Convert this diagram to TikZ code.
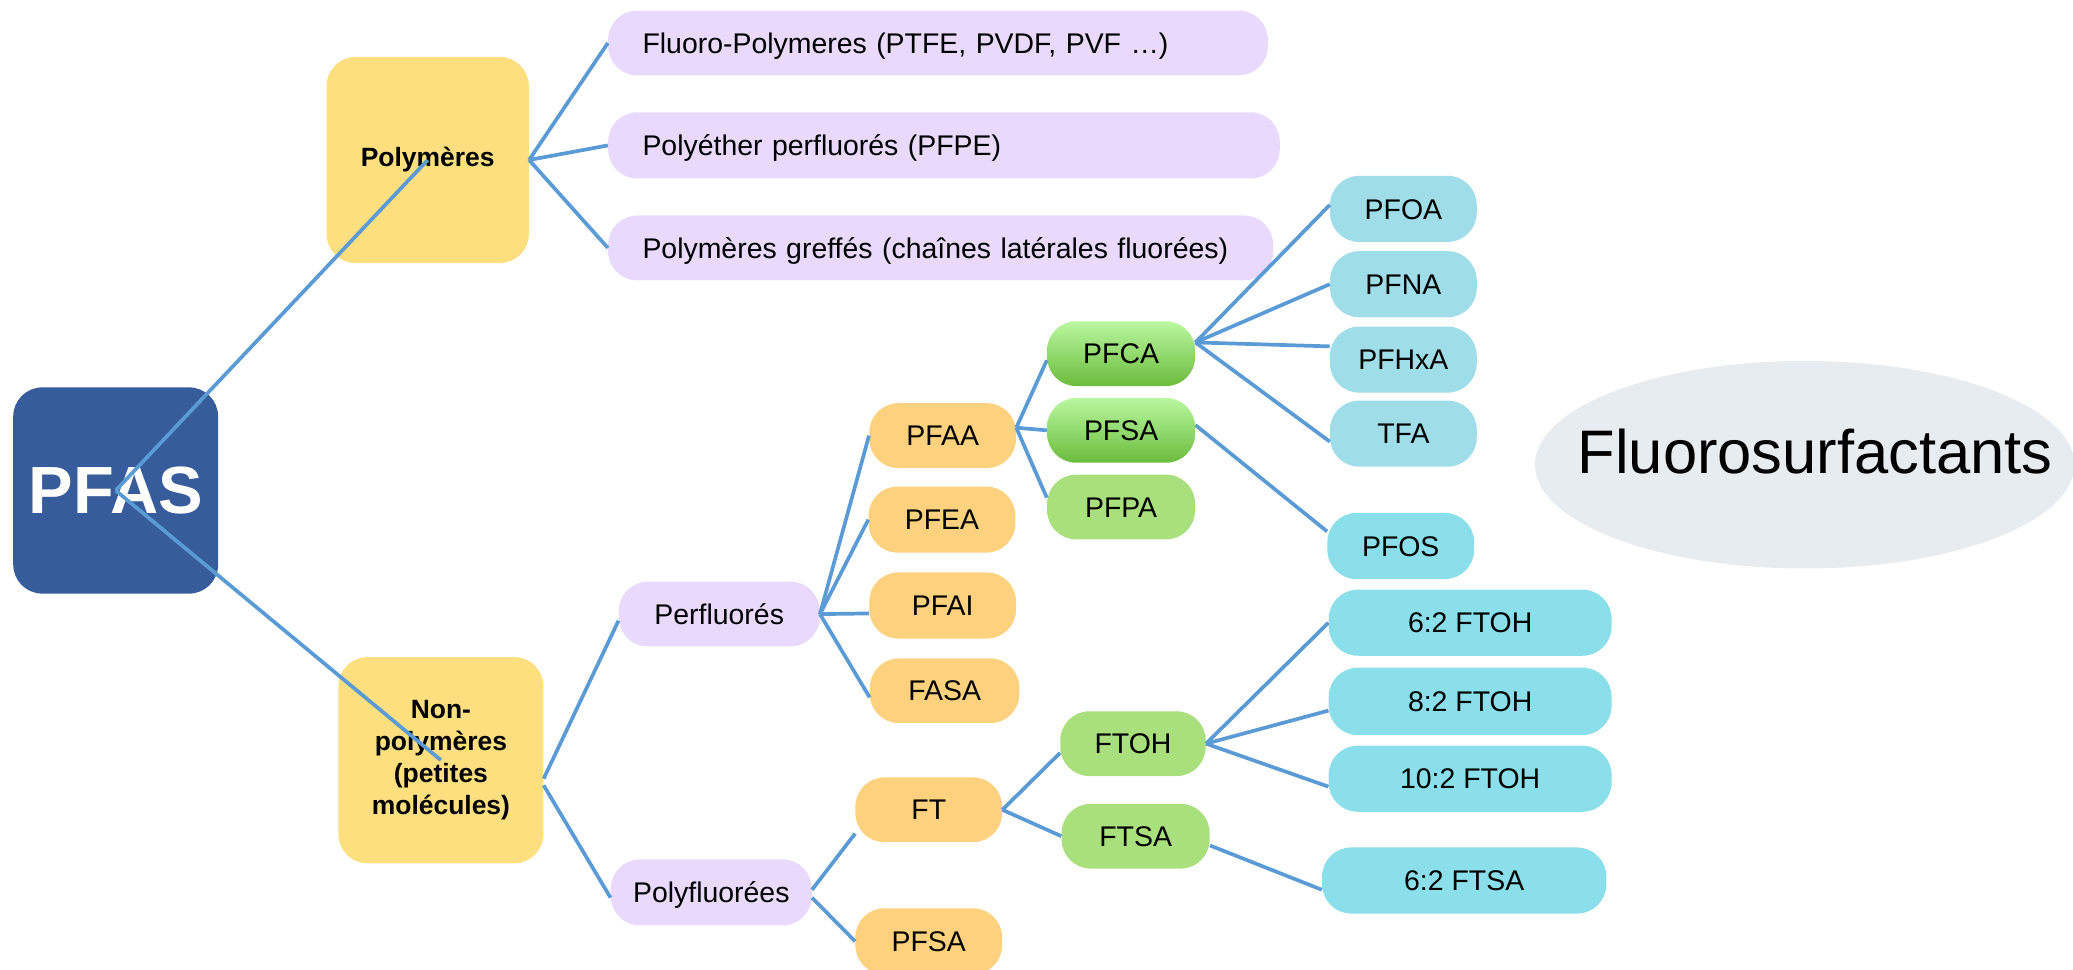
\documentclass[tikz,border=0pt]{standalone}
\usepackage{fontspec}
\setmainfont{Liberation Sans}
\usetikzlibrary{shapes.geometric}
\definecolor{pfasblue}{HTML}{365C9C}
\definecolor{yellowbox}{HTML}{FDDF80}
\definecolor{orangebox}{HTML}{FDD17D}
\definecolor{lavbox}{HTML}{E8D9FD}
\definecolor{greenbox}{HTML}{A9DF7D}
\definecolor{greentop}{HTML}{B9F8A0}
\definecolor{greenbot}{HTML}{6CBB3D}
\definecolor{cyanA}{HTML}{9FDEE8}
\definecolor{cyanB}{HTML}{8BDFEA}
\definecolor{ellgray}{HTML}{E7ECF1}
\definecolor{linkblue}{HTML}{5B9BD5}
\begin{document}
\begin{tikzpicture}[x=1pt,y=-1pt,
  box/.style={rounded corners=22pt, inner sep=0pt, minimum height=49pt},
  lbl/.style={font=\fontsize{21.5}{25}\selectfont, text height=15.4pt, text depth=0pt, align=center},
  big/.style={box, minimum height=156pt, align=center, font=\bfseries\fontsize{20}{24}\selectfont},
  lav/.style={box, lbl, fill=lavbox, align=left, inner xsep=26pt},
  org/.style={box, lbl, fill=orangebox, minimum width=111pt},
  grn/.style={box, lbl, fill=greenbox, minimum width=111pt},
  grad/.style={box, lbl, top color=greentop, bottom color=greenbot, minimum width=112pt},
  cyA/.style={box, lbl, fill=cyanA, minimum width=111pt, minimum height=50pt},
  cyB/.style={box, lbl, fill=cyanB, minimum width=111pt, minimum height=50pt},
  link/.style={draw=linkblue, line width=2.8pt}
]
\useasboundingbox (0,0) rectangle (1568,733);

% main nodes
\node[box, fill=pfasblue, minimum width=155pt, minimum height=156pt, text=white,
      font=\bfseries\fontsize{50.5}{60}\selectfont] (pfas) at (87.5,371) {PFAS};
\node[big, fill=yellowbox, minimum width=153pt] (poly) at (323.5,121) {Polymères};
\node[big, fill=yellowbox, minimum width=155pt] (nonpoly) at (333.5,575) {Non-\\polymères\\(petites\\molécules)};

% polymer families
\node[lav, minimum width=499pt, text width=447pt] (fluoro) at (709.5,32.5) {Fluoro-Polymeres (PTFE, PVDF, PVF …)};
\node[lav, minimum width=508pt, text width=456pt, minimum height=50pt] (pfpe) at (714,110) {Polyéther perfluorés (PFPE)};
\node[lav, minimum width=503pt, text width=451pt] (greffes) at (711.5,187.5) {Polymères greffés (chaînes latérales fluorées)};

% non-polymers
\node[box, lbl, fill=lavbox, minimum width=152pt] (perf) at (544,464.5) {Perfluorés};
\node[box, lbl, fill=lavbox, minimum width=152pt, minimum height=50pt] (polyf) at (538,675) {Polyfluorées};

\node[org] (pfaa) at (713,329.5) {PFAA};
\node[org, minimum height=50pt] (pfea) at (712.5,393) {PFEA};
\node[org, minimum height=50pt] (pfai) at (713,458) {PFAI};
\node[org, minimum width=113pt] (fasa) at (714.5,522.5) {FASA};
\node[org] (ft) at (702.5,612.5) {FT};
\node[org, minimum height=50pt] (pfsab) at (702.5,712) {PFSA};

\node[grad] (pfca) at (848,267.5) {PFCA};
\node[grad] (pfsag) at (848,325.5) {PFSA};
\node[grn, minimum width=112pt] (pfpa) at (848,383.5) {PFPA};
\node[grn, minimum width=110pt] (ftoh) at (857,562.5) {FTOH};
\node[grn, minimum width=112pt] (ftsa) at (859,632.5) {FTSA};

\node[cyA] (pfoa) at (1061.5,158) {PFOA};
\node[cyA] (pfna) at (1061.5,215) {PFNA};
\node[cyA] (pfhxa) at (1061.5,272) {PFHxA};
\node[cyA] (tfa) at (1061.5,328) {TFA};
\node[cyB] (pfos) at (1059.5,413) {PFOS};
\node[cyB, minimum width=214pt] (ftoha) at (1112,471) {6:2 FTOH};
\node[cyB, minimum width=214pt, minimum height=51pt] (ftohb) at (1112,530.5) {8:2 FTOH};
\node[cyB, minimum width=214pt] (ftohc) at (1112,589) {10:2 FTOH};
\node[cyB, minimum width=215pt] (ftsaa) at (1107.5,666) {6:2 FTSA};

% ellipse
\node[ellipse, fill=ellgray, minimum width=408pt, minimum height=157pt, inner sep=0pt] (fsell) at (1365,351.5) {};
\node[font=\fontsize{46.5}{50}\selectfont, inner sep=0pt, text height=33.3pt, text depth=0pt] (fstext) at (1373,341.5) {Fluorosurfactants};

% connectors
\draw[link] (pfas.center) -- (poly.center);
\draw[link] (pfas.center) -- (nonpoly.center);

\draw[link] (poly.east) -- (fluoro.west);
\draw[link] (poly.east) -- (pfpe.west);
\draw[link] (poly.east) -- (greffes.west);

\draw[link] ([yshift=-14pt]nonpoly.east) -- ([yshift=-5pt]perf.west);
\draw[link] ([yshift=-19pt]nonpoly.east) -- ([yshift=-4pt]polyf.west);

\draw[link] (perf.east) -- (pfaa.west);
\draw[link] (perf.east) -- (pfea.west);
\draw[link] (perf.east) -- ([yshift=-6pt]pfai.west);
\draw[link] (perf.east) -- ([yshift=-5pt]fasa.west);

\draw[link] ([yshift=6pt]pfaa.east) -- ([yshift=-5pt]pfca.west);
\draw[link] ([yshift=6pt]pfaa.east) -- (pfsag.west);
\draw[link] ([yshift=6pt]pfaa.east) -- ([yshift=7pt]pfpa.west);

\draw[link] ([yshift=8.5pt]pfca.east) -- ([yshift=3pt]pfoa.west);
\draw[link] ([yshift=8.5pt]pfca.east) -- (pfna.west);
\draw[link] ([yshift=8.5pt]pfca.east) -- ([yshift=10pt]pfhxa.west);
\draw[link] ([yshift=8.5pt]pfca.east) -- ([yshift=-6pt]tfa.west);

\draw[link] ([yshift=4pt]pfsag.east) -- ([yshift=11pt]pfos.west);

\draw[link] ([yshift=2pt]polyf.east) -- ([yshift=-18pt]ft.west);
\draw[link] ([yshift=-4pt]polyf.east) -- (pfsab.west);

\draw[link] (ft.east) -- ([yshift=-7pt]ftoh.west);
\draw[link] (ft.east) -- (ftsa.west);

\draw[link] (ftoh.east) -- (ftoha.west);
\draw[link] (ftoh.east) -- ([yshift=-7pt]ftohb.west);
\draw[link] (ftoh.east) -- ([yshift=-6pt]ftohc.west);

\draw[link] ([yshift=-7pt]ftsa.east) -- ([yshift=-7pt]ftsaa.west);
\end{tikzpicture}
\end{document}
